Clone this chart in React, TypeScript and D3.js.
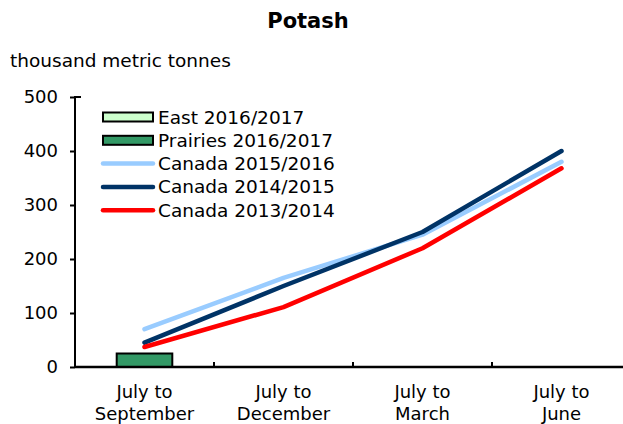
import React, { useEffect, useRef } from 'react';
import * as d3 from 'd3';

const categories = ['July to|September', 'July to|December', 'July to|March', 'July to|June'];
const yTicks = [0, 100, 200, 300, 400, 500];

// bars (only first period reported so far)
const eastValues = [0, null, null, null];
const prairiesValues = [25, null, null, null];

// lines
const canada1516 = [70, 165, 245, 380];
const canada1415 = [45, 150, 250, 400];
const canada1314 = [37, 111, 220, 368];

const App = () => {
    const ref = useRef<SVGSVGElement | null>(null);

    useEffect(() => {
        const svg = d3.select(ref.current);
        svg.selectAll('*').remove();

        const W = 623, H = 424;
        const margin = { top: 97, right: -8, bottom: 57, left: 75 };
        const width = W - margin.left - margin.right;
        const height = H - margin.top - margin.bottom;
        const font = 'DejaVu Sans, Verdana, sans-serif';

        svg.append('text')
            .attr('x', 308).attr('y', 28)
            .attr('text-anchor', 'middle')
            .style('font-family', font).style('font-size', '21px').style('font-weight', 'bold')
            .text('Potash');

        svg.append('text')
            .attr('x', 10).attr('y', 67)
            .style('font-family', font).style('font-size', '18.5px')
            .text('thousand metric tonnes');

        const g = svg.append('g').attr('transform', `translate(${margin.left},${margin.top})`);

        const x = d3.scaleBand().domain(categories).range([0, width]).padding(0);
        const y = d3.scaleLinear().domain([0, 500]).range([height, 0]);

        // bars
        const barW = x.bandwidth() * 0.4;
        const bars = [
            { name: 'East 2016/2017', values: eastValues, color: '#ccffcc' },
            { name: 'Prairies 2016/2017', values: prairiesValues, color: '#339966' },
        ];
        bars.forEach(b => {
            g.selectAll(null)
                .data(b.values.map((v, i) => ({ v, c: categories[i] })).filter(d => d.v))
                .enter().append('rect')
                .attr('x', d => (x(d.c) as number) + x.bandwidth() / 2 - barW / 2)
                .attr('y', d => y(d.v as number))
                .attr('width', barW)
                .attr('height', d => y(0) - y(d.v as number))
                .attr('fill', b.color)
                .attr('stroke', '#000').attr('stroke-width', 2);
        });

        // lines
        const lines = [
            { name: 'Canada 2015/2016', values: canada1516, color: '#99ccff' },
            { name: 'Canada 2014/2015', values: canada1415, color: '#003366' },
            { name: 'Canada 2013/2014', values: canada1314, color: '#ff0000' },
        ];
        const line = d3.line<number>()
            .x((d, i) => (x(categories[i]) as number) + x.bandwidth() / 2)
            .y(d => y(d));
        lines.forEach(l => {
            g.append('path')
                .datum(l.values)
                .attr('fill', 'none')
                .attr('stroke', l.color)
                .attr('stroke-width', 4.5)
                .attr('stroke-linecap', 'round')
                .attr('stroke-linejoin', 'round')
                .attr('d', line);
        });

        // y axis
        const yAxis = g.append('g')
            .call(d3.axisLeft(y).tickValues(yTicks).tickSize(5).tickPadding(12));
        yAxis.select('.domain').attr('stroke-width', 2).attr('d', `M0,${height}V0H6`);
        yAxis.selectAll('.tick line').attr('stroke-width', 2);
        yAxis.selectAll('.tick text')
            .style('font-family', font).style('font-size', '18px').attr('fill', '#000');

        // x axis
        const xAxis = g.append('g').attr('transform', `translate(0,${height})`);
        xAxis.append('line')
            .attr('x1', 0).attr('x2', width)
            .attr('stroke', '#000').attr('stroke-width', 2.5);
        xAxis.selectAll('.xt')
            .data(categories.slice(1))
            .enter().append('line')
            .attr('x1', d => x(d) as number).attr('x2', d => x(d) as number)
            .attr('y1', 0).attr('y2', -5)
            .attr('stroke', '#000').attr('stroke-width', 2);
        categories.forEach(c => {
            const t = xAxis.append('text')
                .attr('text-anchor', 'middle')
                .attr('x', (x(c) as number) + x.bandwidth() / 2)
                .style('font-family', font).style('font-size', '18px');
            c.split('|').forEach((s, i) => {
                t.append('tspan')
                    .attr('x', (x(c) as number) + x.bandwidth() / 2)
                    .attr('y', 31 + i * 22)
                    .text(s);
            });
        });

        // legend
        const lg = svg.append('g').attr('transform', 'translate(103,117)');
        const items = [
            ...bars.map(b => ({ ...b, type: 'bar' })),
            ...lines.map(l => ({ ...l, type: 'line' })),
        ];
        items.forEach((it, i) => {
            const row = lg.append('g').attr('transform', `translate(0,${i * 23.3})`);
            if (it.type === 'bar') {
                row.append('rect')
                    .attr('x', 0).attr('y', -4.5).attr('width', 50).attr('height', 9)
                    .attr('fill', it.color).attr('stroke', '#000').attr('stroke-width', 2);
            } else {
                row.append('line')
                    .attr('x1', 0).attr('x2', 50).attr('y1', 0).attr('y2', 0)
                    .attr('stroke', it.color).attr('stroke-width', 4.5)
                    .attr('stroke-linecap', 'round');
            }
            row.append('text')
                .attr('x', 55).attr('y', 6.5)
                .style('font-family', font).style('font-size', '18.5px')
                .text(it.name);
        });
    }, []);

    return (
        <svg ref={ref} width={623} height={424}
            style={{ position: 'absolute', left: 0, top: 0, background: '#fff' }} />
    );
};

export default App;
